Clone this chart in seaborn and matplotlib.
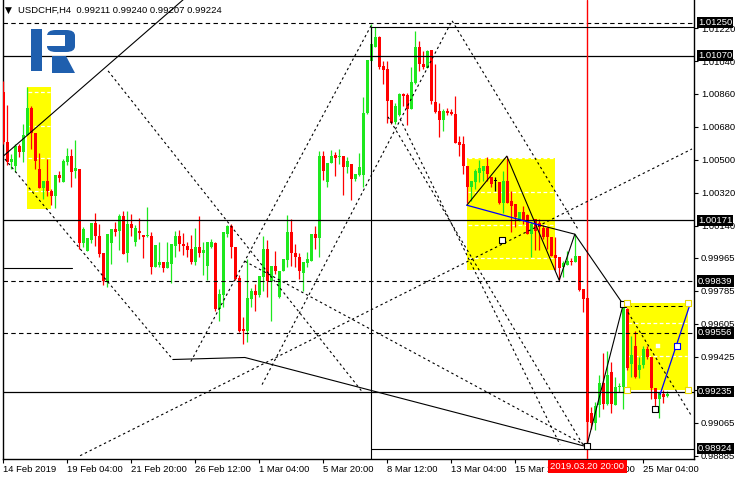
import numpy as np
import pandas as pd
import matplotlib
matplotlib.use("Agg")
import matplotlib.pyplot as plt
import matplotlib.patches as mpatches
import matplotlib.transforms as mtransforms
import seaborn as sns

# --- USDCHF H4 candles ---
opens = [
    1.00871, 1.00598, 1.00488, 1.00467, 1.00576, 1.00543, 1.00636, 1.00784, 1.00647, 1.00450,
    1.00346, 1.00384, 1.00330, 1.00302, 1.00417, 1.00379, 1.00488, 1.00521, 1.00439, 1.00450,
    1.00045, 1.00002, 1.00062, 1.00155, 1.00084, 0.99991, 0.99837, 1.00045, 1.00122, 1.00111,
    1.00193, 0.99991, 1.00149, 1.00051, 1.00111, 1.00089, 1.00084, 1.00084, 0.99914, 0.99925,
    0.99941, 0.99909, 0.99930, 1.00029, 1.00084, 1.00040, 1.00029, 1.00013, 0.99941, 1.00023,
    0.99991, 0.99920, 1.00023, 1.00045, 0.99684, 0.99761, 1.00095, 1.00138, 1.00023, 0.99854,
    0.99575, 0.99564, 0.99739, 0.99783, 0.99761, 0.99859, 1.00013, 0.99837, 0.99920, 0.99750,
    0.99892, 0.99952, 1.00106, 0.99991, 0.99969, 0.99881, 0.99936, 0.99947, 1.00095, 1.00073,
    1.00521, 1.00379, 1.00483, 1.00527, 1.00516, 1.00521, 1.00461, 1.00477, 1.00395, 1.00417,
    1.00417, 1.00756, 1.01041, 1.01117, 1.01172, 1.01014, 1.00997, 1.00828, 1.00707, 1.00746,
    1.00860, 1.00855, 1.00778, 1.00921, 1.01117, 1.01024, 1.01003, 1.01101, 1.00817, 1.00767,
    1.00718, 1.00767, 1.00762, 1.00751, 1.00598, 1.00587, 1.00467, 1.00352, 1.00379, 1.00428,
    1.00439, 1.00467, 1.00406, 1.00384, 1.00379, 1.00264, 1.00384, 1.00275, 1.00259, 1.00171,
    1.00215, 1.00198, 1.00095, 1.00177, 1.00155, 1.00127, 1.00127, 1.00078, 0.99980, 0.99969,
    0.99914, 0.99925, 0.99947, 0.99941, 0.99974, 0.99794, 0.99745, 0.99121, 0.99066, 0.99165,
    0.99285, 0.99170, 0.99345, 0.99165, 0.99263, 0.99263, 0.99684, 0.99389, 0.99482, 0.99356,
    0.99383, 0.99471, 0.99427, 0.99258, 0.99198, 0.99225, 0.99211,
]
highs = [
    1.00932, 1.00800, 1.00532, 1.00587, 1.00587, 1.00696, 1.00899, 1.00795, 1.00647, 1.00538,
    1.00384, 1.00505, 1.00341, 1.00417, 1.00439, 1.00505, 1.00565, 1.00560, 1.00609, 1.00450,
    1.00133, 1.00073, 1.00155, 1.00209, 1.00149, 0.99991, 1.00095, 1.00122, 1.00160, 1.00204,
    1.00220, 1.00220, 1.00204, 1.00144, 1.00182, 1.00089, 1.00242, 1.00106, 1.00034, 1.00051,
    0.99941, 1.00051, 1.00040, 1.00111, 1.00116, 1.00100, 1.00051, 1.00089, 1.00127, 1.00193,
    1.00051, 1.00051, 1.00067, 1.00051, 0.99794, 1.00106, 1.00144, 1.00149, 1.00023, 0.99870,
    0.99641, 0.99958, 0.99799, 0.99821, 0.99865, 1.00084, 1.00062, 0.99920, 1.00002, 0.99892,
    0.99958, 1.00199, 1.00177, 1.00040, 0.99991, 0.99941, 0.99996, 1.00095, 1.00138, 1.00549,
    1.00549, 1.00483, 1.00554, 1.00543, 1.00560, 1.00521, 1.00516, 1.00477, 1.00423, 1.00538,
    1.00844, 1.01046, 1.01243, 1.01227, 1.01178, 1.01041, 1.01041, 1.00828, 1.00811, 1.00866,
    1.00866, 1.00866, 1.01008, 1.01205, 1.01150, 1.01096, 1.01101, 1.01101, 1.01024, 1.00811,
    1.00778, 1.00784, 1.00778, 1.00849, 1.00631, 1.00631, 1.00467, 1.00384, 1.00450, 1.00499,
    1.00467, 1.00516, 1.00406, 1.00406, 1.00379, 1.00439, 1.00521, 1.00330, 1.00259, 1.00215,
    1.00248, 1.00204, 1.00160, 1.00177, 1.00177, 1.00144, 1.00133, 1.00078, 1.00078, 0.99969,
    0.99947, 1.00002, 0.99963, 1.00095, 0.99974, 0.99794, 0.99745, 0.99154, 0.99181, 0.99329,
    0.99449, 0.99455, 0.99400, 0.99318, 0.99285, 0.99706, 0.99690, 0.99542, 0.99564, 0.99427,
    0.99487, 0.99482, 0.99427, 0.99258, 0.99230, 0.99247, 0.99240,
]
lows = [
    1.00587, 1.00472, 1.00450, 1.00434, 1.00516, 1.00488, 1.00636, 1.00560, 1.00450, 1.00346,
    1.00286, 1.00302, 1.00253, 1.00237, 1.00379, 1.00379, 1.00472, 1.00352, 1.00401, 1.00013,
    1.00023, 1.00002, 1.00045, 1.00029, 0.99969, 0.99816, 0.99805, 0.99930, 1.00084, 1.00007,
    0.99985, 0.99941, 1.00084, 1.00029, 1.00067, 0.99963, 1.00078, 0.99876, 0.99914, 0.99914,
    0.99887, 0.99909, 0.99827, 0.99969, 1.00002, 0.99980, 0.99969, 0.99930, 0.99925, 0.99969,
    0.99870, 0.99843, 1.00018, 0.99673, 0.99619, 0.99695, 1.00078, 0.99963, 0.99843, 0.99559,
    0.99498, 0.99509, 0.99695, 0.99673, 0.99750, 0.99783, 0.99750, 0.99619, 0.99876, 0.99745,
    0.99892, 0.99914, 0.99920, 0.99914, 0.99848, 0.99783, 0.99914, 0.99947, 1.00013, 0.99969,
    1.00390, 1.00352, 1.00483, 1.00412, 1.00477, 1.00308, 1.00428, 1.00281, 1.00384, 1.00412,
    1.00352, 1.00751, 1.01041, 1.01117, 1.00997, 1.00915, 1.00702, 1.00696, 1.00696, 1.00740,
    1.00795, 1.00691, 1.00778, 1.00915, 1.00986, 1.00997, 1.01003, 1.00806, 1.00756, 1.00625,
    1.00658, 1.00745, 1.00745, 1.00592, 1.00521, 1.00423, 1.00264, 1.00275, 1.00341, 1.00379,
    1.00384, 1.00384, 1.00352, 1.00330, 1.00259, 1.00209, 1.00264, 1.00106, 1.00133, 1.00166,
    1.00149, 1.00095, 0.99969, 1.00007, 1.00007, 1.00067, 1.00013, 0.99974, 0.99898, 0.99843,
    0.99859, 0.99925, 0.99925, 0.99941, 0.99783, 0.99668, 0.98924, 0.99033, 0.99028, 0.99099,
    0.99143, 0.99165, 0.99121, 0.99165, 0.99236, 0.99143, 0.99356, 0.99318, 0.99312, 0.99312,
    0.99367, 0.99416, 0.99198, 0.99154, 0.99094, 0.99176, 0.99207,
]
closes = [
    1.00598, 1.00488, 1.00505, 1.00576, 1.00543, 1.00636, 1.00784, 1.00647, 1.00494, 1.00346,
    1.00384, 1.00330, 1.00302, 1.00417, 1.00401, 1.00494, 1.00521, 1.00434, 1.00456, 1.00045,
    1.00122, 1.00073, 1.00155, 1.00084, 0.99985, 0.99837, 1.00095, 1.00122, 1.00106, 1.00193,
    0.99985, 1.00149, 1.00127, 1.00127, 1.00100, 1.00078, 1.00087, 0.99914, 1.00034, 0.99941,
    0.99909, 0.99941, 1.00040, 1.00084, 1.00040, 1.00029, 1.00007, 0.99941, 1.00023, 0.99991,
    1.00007, 1.00051, 1.00051, 0.99684, 0.99766, 1.00106, 1.00138, 1.00023, 0.99848, 0.99564,
    0.99564, 0.99745, 0.99783, 0.99761, 0.99865, 1.00013, 0.99837, 0.99920, 0.99892, 0.99892,
    0.99958, 1.00106, 0.99991, 0.99969, 0.99892, 0.99941, 0.99958, 1.00095, 1.00073, 1.00521,
    1.00439, 1.00483, 1.00521, 1.00510, 1.00521, 1.00461, 1.00494, 1.00395, 1.00423, 1.00461,
    1.00756, 1.01046, 1.01134, 1.01172, 1.01008, 1.00992, 1.00822, 1.00702, 1.00795, 1.00860,
    1.00849, 1.00778, 1.00926, 1.01117, 1.01024, 1.01008, 1.01096, 1.00822, 1.00762, 1.00718,
    1.00767, 1.00756, 1.00751, 1.00592, 1.00581, 1.00467, 1.00352, 1.00384, 1.00439, 1.00456,
    1.00467, 1.00423, 1.00368, 1.00384, 1.00264, 1.00384, 1.00264, 1.00248, 1.00188, 1.00215,
    1.00171, 1.00095, 1.00149, 1.00111, 1.00133, 1.00078, 1.00078, 0.99974, 0.99963, 0.99909,
    0.99936, 0.99947, 0.99941, 0.99974, 0.99788, 0.99739, 0.99072, 0.99066, 0.99159, 0.99285,
    0.99170, 0.99329, 0.99170, 0.99263, 0.99269, 0.99701, 0.99367, 0.99438, 0.99318, 0.99383,
    0.99471, 0.99422, 0.99258, 0.99198, 0.99230, 0.99208, 0.99224,
]

# --- axis text ---
xtick_bars = [0, 16, 32, 48, 64, 80, 96, 112, 128, 144, 160]
xtick_labels = ["14 Feb 2019", "19 Feb 04:00", "21 Feb 20:00", "26 Feb 12:00", "1 Mar 04:00",
                "5 Mar 20:00", "8 Mar 12:00", "13 Mar 04:00", "15 Mar 20:00", "20 Mar 12:00",
                "25 Mar 04:00"]
ytick_values = [1.01220, 1.01040, 1.00860, 1.00680, 1.00500, 1.00320, 1.00140, 0.99965,
                0.99785, 0.99605, 0.99425, 0.99245, 0.99065, 0.98885]
marked_levels = [1.01250, 1.01070, 1.00171, 0.99839, 0.99556, 0.99235, 0.98924]
solid_levels = [1.01070, 1.00171, 0.99235]
dashed_levels = [1.01250, 0.99839, 0.99556]
current_bar = 146
current_label = "2019.03.20 20:00"
header = "USDCHF,H4  0.99211 0.99240 0.99207 0.99224"

# --- analysis objects, anchored at (bar, price) ---
solid_trends = [
    [(0, 1.00521), (45, 1.01375)],
    [(42.4, 0.99411), (60.4, 0.99422), (145.9, 0.98935)],
    [(92, 1.01228), (173, 1.01228)],
    [(92, 0.98924), (173, 0.98924)],
    [(0.2, 0.99909), (17.3, 0.99909)],
    [(92, 1.01228), (92, 0.98860)],
    [(134.2, 1.00144), (142.9, 1.00095)],
]
dotted_trends = [
    [(26.2, 1.00986), (89.7, 0.99236)],
    [(0.4, 1.00505), (42.4, 0.99411)],
    [(19.2, 0.98886), (172.2, 1.00560)],
    [(46.9, 0.99400), (92.2, 1.01243)],
    [(64.7, 0.99274), (112.2, 1.01260), (143.7, 1.00122)],
    [(96.2, 1.00735), (145.4, 0.98929)],
    [(99.2, 1.00724), (139.2, 0.98946)],
    [(60.4, 0.99947), (146.2, 0.98935)],
    [(156.2, 0.99668), (172.2, 0.99099)],
]
wave_path = [(115.9, 1.00253), (125.9, 1.00521), (139.0, 0.99843), (142.9, 1.00095),
             (155.0, 0.99712), (145.9, 0.98940)]
blue_lines = [[(115.9, 1.00253), (134.2, 1.00144)], [(164.2, 0.99219), (171.7, 0.99712)]]
boxes = [(5.85, 11.9, 1.00231, 1.00897), (115.85, 137.9, 0.99899, 1.00509),
         (155.85, 171.25, 0.99244, 0.99717)]
box_marks = [[1.00870, 1.00687, 1.00509, 1.00328], [1.00509, 1.00326, 1.00145, 0.99967],
             [0.99608, 0.99429]]
box_top_dash = 0.99701
black_squares = [(155.0, 0.99712), (145.9, 0.98940), (162.9, 0.99143), (124.6, 1.00063)]
blue_squares = [(168.5, 0.99487)]
white_squares = [(163.6, 0.99483)]

BULL = "#1ee81e"
BEAR = "#ff0000"

sns.set_theme(style="white")
plt.rcParams["font.family"] = ["Liberation Sans", "DejaVu Sans"]

fig = plt.figure(figsize=(7.4, 4.8), dpi=100)
ax = fig.add_axes([2.7 / 740, 21 / 480, (694 - 2.7) / 740, 459 / 480])
ax.set_facecolor("white")

df = pd.DataFrame({"open": opens, "high": highs, "low": lows, "close": closes})
df["bar"] = np.arange(len(df))
colors = np.where(df.close > df.open, BULL, np.where(df.close < df.open, BEAR, "black"))

# yellow boxes (background)
for (b0, b1, lo, hi), marks in zip(boxes, box_marks):
    ax.add_patch(mpatches.Rectangle((b0, lo), b1 - b0, hi - lo, facecolor="#ffff00",
                                    edgecolor="none", zorder=0.5))
    for m in marks:
        ax.plot([b0 + 0.3, b1 - 0.3], [m, m], color="white", lw=0.9,
                linestyle=(0, (3, 2)), zorder=0.6)
b0, b1, lo, hi = boxes[2]
ax.plot([b0, b1], [box_top_dash, box_top_dash], color="black", lw=0.75,
        linestyle=(0, (4, 3)), zorder=4)

# horizontal levels
for lv in solid_levels:
    ax.axhline(lv, color="black", lw=0.9, zorder=4)
for lv in dashed_levels:
    ax.axhline(lv, color="black", lw=0.8, linestyle=(0, (4, 3)), zorder=4)

# candles
ax.vlines(df.bar, df.low, df.high, colors=colors, lw=0.9, zorder=3)
body_lo = np.minimum(df.open, df.close)
body_h = np.maximum((df.close - df.open).abs(), 0.00005)
ax.bar(df.bar, body_h, bottom=body_lo, width=0.76, color=colors, linewidth=0, zorder=3)

# current bar marker
ax.axvline(current_bar, color="#ff0000", lw=1.0, zorder=4.5)

# trend objects
for path in solid_trends:
    xs, ys = zip(*path)
    ax.plot(xs, ys, color="black", lw=0.8, zorder=5)
for path in dotted_trends:
    xs, ys = zip(*path)
    ax.plot(xs, ys, color="black", lw=0.8, linestyle=(0, (2.2, 2.6)), zorder=5)
xs, ys = zip(*wave_path)
ax.plot(xs, ys, color="black", lw=0.8, zorder=5)
for path in blue_lines:
    xs, ys = zip(*path)
    ax.plot(xs, ys, color="#0000ff", lw=0.9, zorder=5)

sq = pd.DataFrame(black_squares, columns=["bar", "price"])
sns.scatterplot(data=sq, x="bar", y="price", marker="s", s=16, facecolor="white",
                edgecolor="black", linewidth=0.8, zorder=6, ax=ax)
sq = pd.DataFrame(blue_squares, columns=["bar", "price"])
sns.scatterplot(data=sq, x="bar", y="price", marker="s", s=16, facecolor="white",
                edgecolor="#0000ff", linewidth=0.8, zorder=6, ax=ax)
sq = pd.DataFrame(white_squares, columns=["bar", "price"])
sns.scatterplot(data=sq, x="bar", y="price", marker="s", s=10, color="white",
                edgecolor="white", zorder=6, ax=ax)
corners = pd.DataFrame([(b0, hi), (b1, hi), (b0, lo), (b1, lo)], columns=["bar", "price"])
sns.scatterplot(data=corners, x="bar", y="price", marker="s", s=16, facecolor="white",
                edgecolor="#e8d800", linewidth=0.8, zorder=6, ax=ax)

# axes
ax.set_xlim(-0.15, 172.7)
ax.set_ylim(0.98868, 1.01373)
ax.set_xlabel("")
ax.set_ylabel("")
for side in ["left", "bottom", "right"]:
    ax.spines[side].set_visible(True)
    ax.spines[side].set_color("black")
    ax.spines[side].set_linewidth(1.0)
ax.spines["top"].set_visible(False)

ax.yaxis.tick_right()
ax.set_yticks(ytick_values)
ax.set_yticklabels([f"{v:.5f}" for v in ytick_values])
ax.set_xticks(xtick_bars)
ax.set_xticklabels(xtick_labels, ha="left")
ax.tick_params(axis="y", direction="out", length=3, width=0.8, pad=2, labelsize=6.8,
               colors="black", right=True, left=False)
ax.tick_params(axis="x", direction="out", length=3, width=0.8, pad=1.5, labelsize=6.8,
               colors="black", bottom=True)

# highlighted price labels
yl = mtransforms.offset_copy(mtransforms.blended_transform_factory(ax.transAxes, ax.transData),
                             fig=fig, x=4, y=0, units="dots")
for lv in marked_levels:
    ax.text(1.0, lv, f"{lv:.5f}", transform=yl, ha="left", va="center", fontsize=6.8,
            color="white", zorder=10, clip_on=False,
            bbox=dict(boxstyle="square,pad=0.12", facecolor="black", edgecolor="none"))

xl = mtransforms.offset_copy(mtransforms.blended_transform_factory(ax.transData, ax.transAxes),
                             fig=fig, x=0, y=-3, units="dots")
ax.text(current_bar, 0.0, current_label, transform=xl, ha="center", va="top", fontsize=6.8,
        color="white", zorder=10, clip_on=False,
        bbox=dict(boxstyle="square,pad=0.25", facecolor="#ff0000", edgecolor="none"))

# header
fig.text(5 / 740, 1 - 10 / 480, "▼", fontsize=6.5, color="black", va="center",
         family=["DejaVu Sans"])
fig.text(18 / 740, 1 - 10 / 480, header, fontsize=6.8, color="black", va="center")


# logo
def px(x, y):
    return (x / 740, 1 - y / 480)


logo_blue = "#1f5fae"
fig.patches.append(mpatches.Rectangle(px(31, 71), 11 / 740, 42 / 480, transform=fig.transFigure,
                                      facecolor=logo_blue, edgecolor="none", zorder=8))
fig.patches.append(mpatches.FancyBboxPatch(px(47, 52), 28 / 740, 22 / 480,
                                           boxstyle="round,pad=0,rounding_size=0.012",
                                           transform=fig.transFigure, facecolor=logo_blue,
                                           edgecolor="none", zorder=8))
fig.patches.append(mpatches.Rectangle(px(47, 46), 18 / 740, 11 / 480, transform=fig.transFigure,
                                      facecolor="white", edgecolor="none", zorder=8))
fig.patches.append(mpatches.Polygon([px(52, 56), px(66, 56), px(75, 73), px(52, 73)],
                                    closed=True, transform=fig.transFigure,
                                    facecolor=logo_blue, edgecolor="none", zorder=8))

fig.savefig("out.png", dpi=100, facecolor="white")
